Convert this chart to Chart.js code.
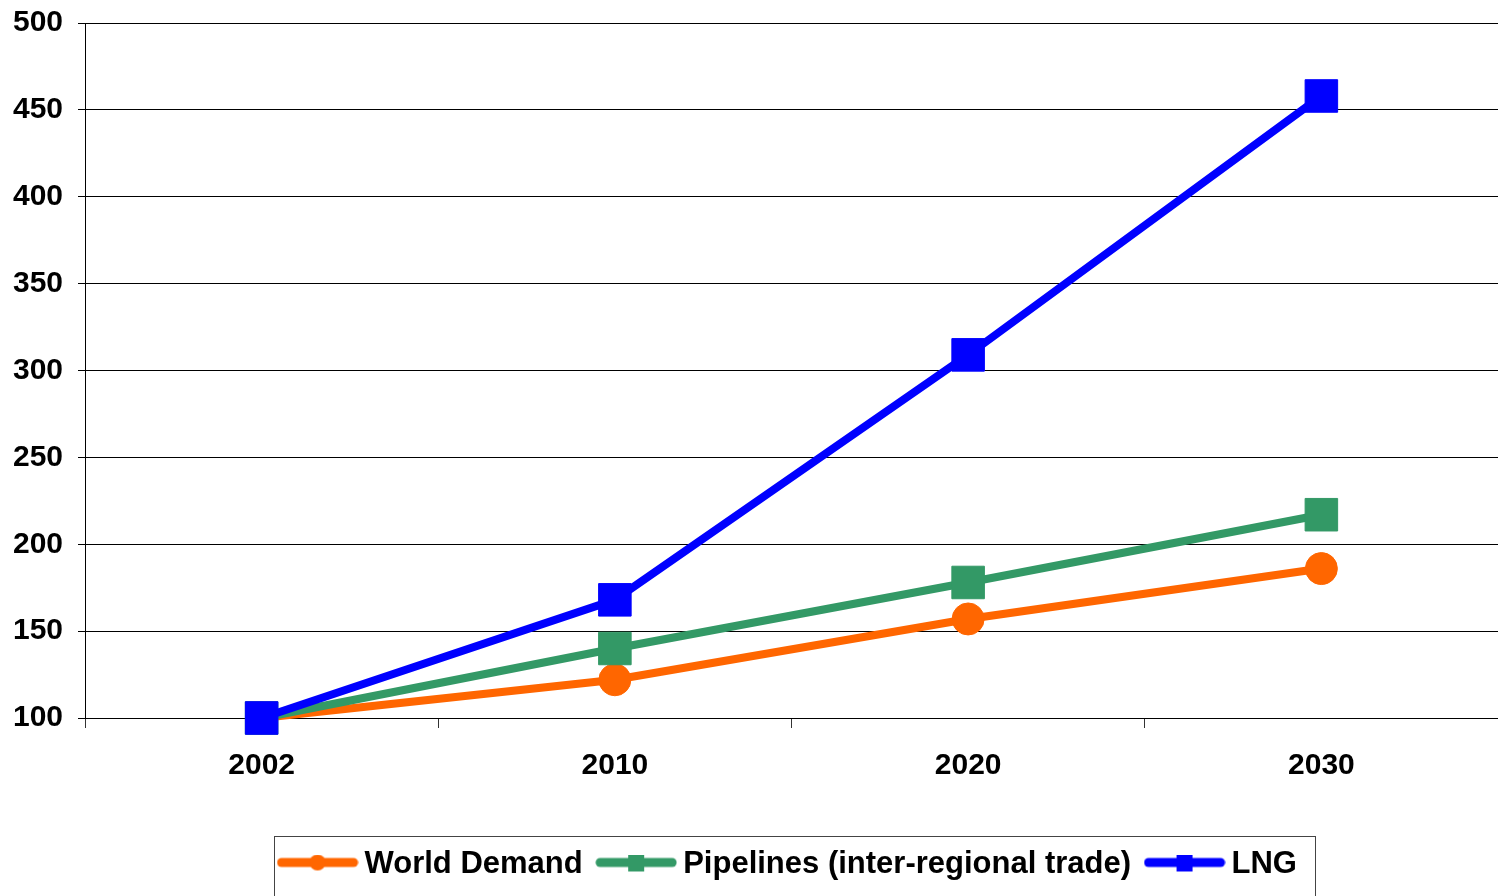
<!DOCTYPE html>
<html>
<head>
<meta charset="utf-8">
<title>Gas demand and trade</title>
<script src="https://cdn.jsdelivr.net/npm/chart.js@4/dist/chart.umd.min.js"></script>
<style>
    html, body {margin: 0; padding: 0; background: #fff;}
    #wrap {width: 1498px; height: 896px;}
</style>
</head>
<body>
<div id="wrap"><canvas id="myChart" width="1498" height="896"></canvas></div>
<script>
const years = ['2002', '2010', '2020', '2030'];
const worldDemand = [100, 122, 157, 186];
const pipelines = [100, 140, 178, 217];
const lng = [100, 168, 309, 458];
const yTicks = [100, 150, 200, 250, 300, 350, 400, 450, 500];

const ORANGE = '#ff6600', GREEN = '#339966', BLUE = '#0000ff';
const FONT = "'Liberation Sans', Arial, sans-serif";

// little line + marker sample used as the legend symbol
function legendIcon(color, shape) {
    const c = document.createElement('canvas');
    c.width = 82;
    c.height = 20;
    const g = c.getContext('2d');
    g.strokeStyle = color;
    g.fillStyle = color;
    g.lineWidth = 9;
    g.lineCap = 'round';
    g.beginPath();
    g.moveTo(5, 8);
    g.lineTo(77, 8);
    g.stroke();
    g.beginPath();
    if (shape === 'circle') {
        g.arc(41, 8, 8, 0, Math.PI * 2);
    } else {
        g.rect(33, 0, 16, 17);
    }
    g.fill();
    return c;
}
const icons = [legendIcon(ORANGE, 'circle'), legendIcon(GREEN, 'rect'), legendIcon(BLUE, 'rect')];

// frame around the legend row, open at the bottom edge of the canvas
const legendFrame = {
    id: 'legendFrame',
    afterDraw(chart) {
        const lg = chart.legend, hb = lg.legendHitBoxes;
        if (!hb || !hb.length) return;
        const first = hb[0], last = hb[hb.length - 1];
        const x1 = Math.round(first.left - 12) + 0.5;
        const x2 = Math.round(last.left + last.width + 18) + 0.5;
        const y1 = Math.round(lg.top + 9) + 0.5;
        const ctx = chart.ctx;
        ctx.save();
        ctx.strokeStyle = '#444';
        ctx.lineWidth = 1;
        ctx.strokeRect(x1, y1, x2 - x1, 120);
        ctx.restore();
    }
};

const ds = (label, data, color, style, r, order) => ({
    label: label,
    data: data,
    borderColor: color,
    backgroundColor: color,
    borderWidth: 8,
    tension: 0,
    pointStyle: style,
    pointRadius: r,
    pointHoverRadius: r,
    pointBorderWidth: 1,
    pointBorderColor: color,
    pointBackgroundColor: color,
    clip: false,
    order: order
});

new Chart(document.getElementById('myChart'), {
    type: 'line',
    data: {
        labels: years,
        datasets: [
            ds('World Demand', worldDemand, ORANGE, 'circle', 16, 2),
            ds('Pipelines (inter-regional trade)', pipelines, GREEN, 'rect', 23, 1),
            ds('LNG', lng, BLUE, 'rect', 23, 0)
        ]
    },
    options: {
        responsive: false,
        animation: false,
        layout: {autoPadding: false, padding: {top: 23, right: 0, bottom: 6, left: 0}},
        plugins: {
            tooltip: {enabled: false},
            legend: {
                position: 'bottom',
                fullSize: false,
                labels: {
                    usePointStyle: true,
                    pointStyleWidth: 63,
                    padding: 22,
                    color: '#000',
                    font: {family: FONT, size: 31, weight: 'bold'},
                    generateLabels: (chart) => chart.data.datasets.map((d, i) => ({
                        text: d.label,
                        pointStyle: icons[i],
                        datasetIndex: i,
                        fontColor: '#000',
                        hidden: false,
                        lineWidth: 0,
                        strokeStyle: 'rgba(0,0,0,0)',
                        fillStyle: 'rgba(0,0,0,0)'
                    }))
                }
            }
        },
        scales: {
            x: {
                offset: true,
                grid: {offset: true, drawOnChartArea: false, drawTicks: true, tickLength: 10, color: '#333'},
                border: {color: '#000', width: 1},
                ticks: {color: '#000', padding: 20, font: {family: FONT, size: 30, weight: 'bold'}},
                afterFit: (s) => { s.height = 109; }
            },
            y: {
                min: 100,
                max: 500,
                afterBuildTicks: (s) => { s.ticks = yTicks.map(v => ({value: v})); },
                grid: {color: '#000', lineWidth: 1, tickLength: 7},
                border: {color: '#000', width: 1},
                ticks: {color: '#000', padding: 15, font: {family: FONT, size: 30, weight: 'bold'}},
                afterFit: (s) => {
                    s.width = 85;
                    s.paddingTop = 0;
                    s.paddingBottom = 0;
                }
            }
        }
    },
    plugins: [legendFrame]
});
</script>
</body>
</html>
